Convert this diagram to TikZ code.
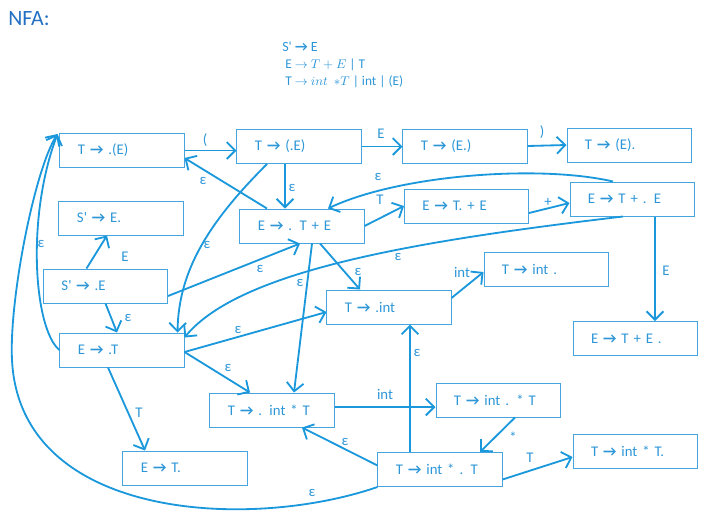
\documentclass[tikz,border=0pt]{standalone}
\usepackage{fontspec}
\setmainfont{Carlito}
\usepackage{tikz}
\usetikzlibrary{arrows.meta, positioning}
\definecolor{nfaline}{RGB}{27,152,220}
\definecolor{nfabox}{RGB}{70,165,222}
\definecolor{nfatext}{RGB}{45,150,215}
\definecolor{nfahead}{RGB}{35,112,195}
\newcommand{\iarr}{\textbf{→}}
\tikzset{lritem/.style={draw=nfabox, line width=.7pt, text=nfatext, minimum height=.85cm, text width=2.2cm, inner xsep=.45cm, align=left, font=\fontsize{10.5}{12}\selectfont},
    lbl/.style={text=nfatext, inner sep=0pt, font=\fontsize{10.5}{12}\selectfont},
    tr/.style={->, draw=nfaline, line width=1.3pt}}

\begin{document}
\begin{tikzpicture}[x=0.025cm, y=-0.025cm, >={Straight Barb[length=6pt,width=12pt]}]
                      \useasboundingbox (0,0) rectangle (728,522);
                      \node[anchor=west, inner sep=0pt, text=nfahead, font=\fontsize{15.5}{18}\selectfont] (title) at (8,19) {NFA:};
                      \node[anchor=base west, lbl, font=\fontsize{10}{11}\selectfont] (g1) at (282,51) {S\textquotesingle{} \iarr{} E};
                      \node[anchor=base west, lbl, font=\fontsize{9.5}{11}\selectfont] (g2) at (285,68) {E $\rightarrow$ $T+E$ | T};
                      \node[anchor=base west, lbl, font=\fontsize{9.5}{11}\selectfont] (g3) at (285,85) {T $\rightarrow$ $int\ \ {\ast}T$ | int | (E)};

                      \node[lritem] (pA) at (122,150.5) {T \iarr{} .(E)};
                      \node[lritem] (pB) at (299,146.5) {T \iarr{} (.E)};
                      \node[lritem] (pC) at (465,146) {T \iarr{} (E.)};
                      \node[lritem] (pD) at (629,145) {T \iarr{} (E).};
                      \node[lritem] (sEd) at (121,218) {S\textquotesingle{} \iarr{} E.};
                      \node[lritem] (eTE) at (302,226) {E \iarr{} . T + E};
                      \node[lritem] (eTdE) at (466.5,206) {E \iarr{} T. + E};
                      \node[lritem] (eTpE) at (632,199) {E \iarr{} T + . E};
                      \node[lritem] (sE) at (105.5,286) {S\textquotesingle{} \iarr{} .E};
                      \node[lritem] (tInt) at (389,307) {T \iarr{} .int};
                      \node[lritem] (tIntd) at (546,269) {T \iarr{} int .};
                      \node[lritem] (eTEd) at (635,338.5) {E \iarr{} T + E .};
                      \node[lritem] (eT) at (122,350) {E \iarr{} .T};
                      \node[lritem] (tIT) at (272,410) {T \iarr{} . int * T};
                      \node[lritem] (tIdT) at (498,400) {T \iarr{} int . * T};
                      \node[lritem] (tIsT) at (440,469.5) {T \iarr{} int * . T};
                      \node[lritem] (tIsTd) at (635,451) {T \iarr{} int * T.};
                      \node[lritem] (eTd) at (185,468) {E \iarr{} T.};
                      \coordinate (loopL) at (12,360);

                      \draw[tr] (pA.east) -- (pA.east -| pB.west);
                      \draw[tr] (pB.east) -- (pB.east -| pC.west);
                      \draw[tr] (pC.east) -- (pD.west);
                      \draw[tr] ([shift={(-14,0)}]pB.south) -- ([shift={(-17,0)}]eTE.north);
                      \draw[tr] ([shift={(-35,0)}]eTE.north) -- ([shift={(0,7.5)}]pA.east);
                      \draw[tr] ([shift={(-32,0)}]pB.south) .. controls +(-57,57) and +(1,-63) .. ([shift={(-7,0)}]eT.north east);
                      \draw[tr] ([shift={(-19,0)}]eTpE.north) .. controls +(-73,-17) and +(72,-34) .. ([shift={(26,0)}]eTE.north);
                      \draw[tr] (eTE.east) -- (eTdE.west);
                      \draw[tr] ([shift={(0,7)}]eTdE.east) -- ([shift={(0,4)}]eTpE.west);
                      \draw[tr] ([shift={(23,0)}]eTpE.south) -- ([shift={(20,0)}]eTEd.north);
                      \draw[tr] ([shift={(-9,0)}]eTpE.south) .. controls +(-203,24) and +(56,-68) .. ([shift={(0,5)}]eT.north east);
                      \draw[tr] ([shift={(-19,0)}]sE.north) -- ([shift={(-14,0)}]sEd.south);
                      \draw[tr] ([shift={(0,10)}]sE.east) -- ([shift={(-2,0)}]eTE.south);
                      \draw[tr] (sE.south) -- ([shift={(-5,0)}]eT.north);
                      \draw[tr] ([shift={(18,0)}]eTE.south) -- ([shift={(-29,0)}]tInt.north);
                      \draw[tr] ([shift={(10,0)}]eTE.south) -- ([shift={(22,0)}]tIT.north);
                      \draw[tr] ([shift={(0,2)}]eT.east) -- ([shift={(0,5)}]tInt.west);
                      \draw[tr] ([shift={(0,2)}]eT.east) -- ([shift={(-22,0)}]tIT.north);
                      \draw[tr] ([shift={(-14,0)}]eT.south) -- ([shift={(-40,0)}]eTd.north);
                      \draw[tr] (eT.west) .. controls +(-25,-20) and +(-32,85) .. ([shift={(-2,1)}]pA.north west);
                      \draw[tr] (tIsT.south west) .. controls +(-128,44) and +(8,160) .. (loopL) .. controls +(-3,-60) and +(-23,36) .. ([shift={(-2,1)}]pA.north west);
                      \draw[tr] ([shift={(-30,0)}]tIsT.north) -- ([shift={(21,0)}]tInt.south);
                      \draw[tr] ([shift={(0,-4)}]tIsT.west) -- ([shift={(30,0)}]tIT.south);
                      \draw[tr] ([shift={(0,-3)}]tIT.east) -- ([shift={(0,7)}]tIdT.west);
                      \draw[tr] ([shift={(17,0)}]tIdT.south) -- ([shift={(40,0)}]tIsT.north);
                      \draw[tr] ([shift={(0,10)}]tIsT.east) -- ([shift={(0,6)}]tIsTd.west);
                      \draw[tr] ([shift={(0,-9)}]tInt.east) -- ([shift={(0,3)}]tIntd.west);

                      \node[lbl] (l1) at (205,140) {(};
                      \node[lbl] (l2) at (381,134) {E};
                      \node[lbl] (l3) at (542,132) {)};
                      \node[lbl] (l4) at (292,188) {ε};
                      \node[lbl] (l5) at (203,181) {ε};
                      \node[lbl] (l6) at (207,245) {ε};
                      \node[lbl] (l7) at (378,177) {ε};
                      \node[lbl] (l8) at (380,200) {T};
                      \node[lbl] (l9) at (548,202) {+};
                      \node[lbl] (l10) at (666,271) {E};
                      \node[lbl] (l11) at (398,257) {ε};
                      \node[lbl] (l12) at (125,257) {E};
                      \node[lbl] (l13) at (260,269) {ε};
                      \node[lbl] (l14) at (128,318) {ε};
                      \node[lbl] (l15) at (358,272) {ε};
                      \node[lbl] (l16) at (300,283) {ε};
                      \node[lbl] (l17) at (238,330) {ε};
                      \node[lbl] (l18) at (228,368) {ε};
                      \node[lbl] (l19) at (139,413) {T};
                      \node[lbl] (l20) at (41,244) {ε};
                      \node[lbl] (l21) at (312,493) {ε};
                      \node[lbl] (l22) at (417,353) {ε};
                      \node[lbl] (l23) at (345,442) {ε};
                      \node[lbl] (l24) at (385,394) {int};
                      \node[lbl] (l25) at (513,437) {*};
                      \node[lbl] (l26) at (530,458) {T};
                      \node[lbl] (l27) at (462,272) {int};
             \end{tikzpicture}
\end{document}
